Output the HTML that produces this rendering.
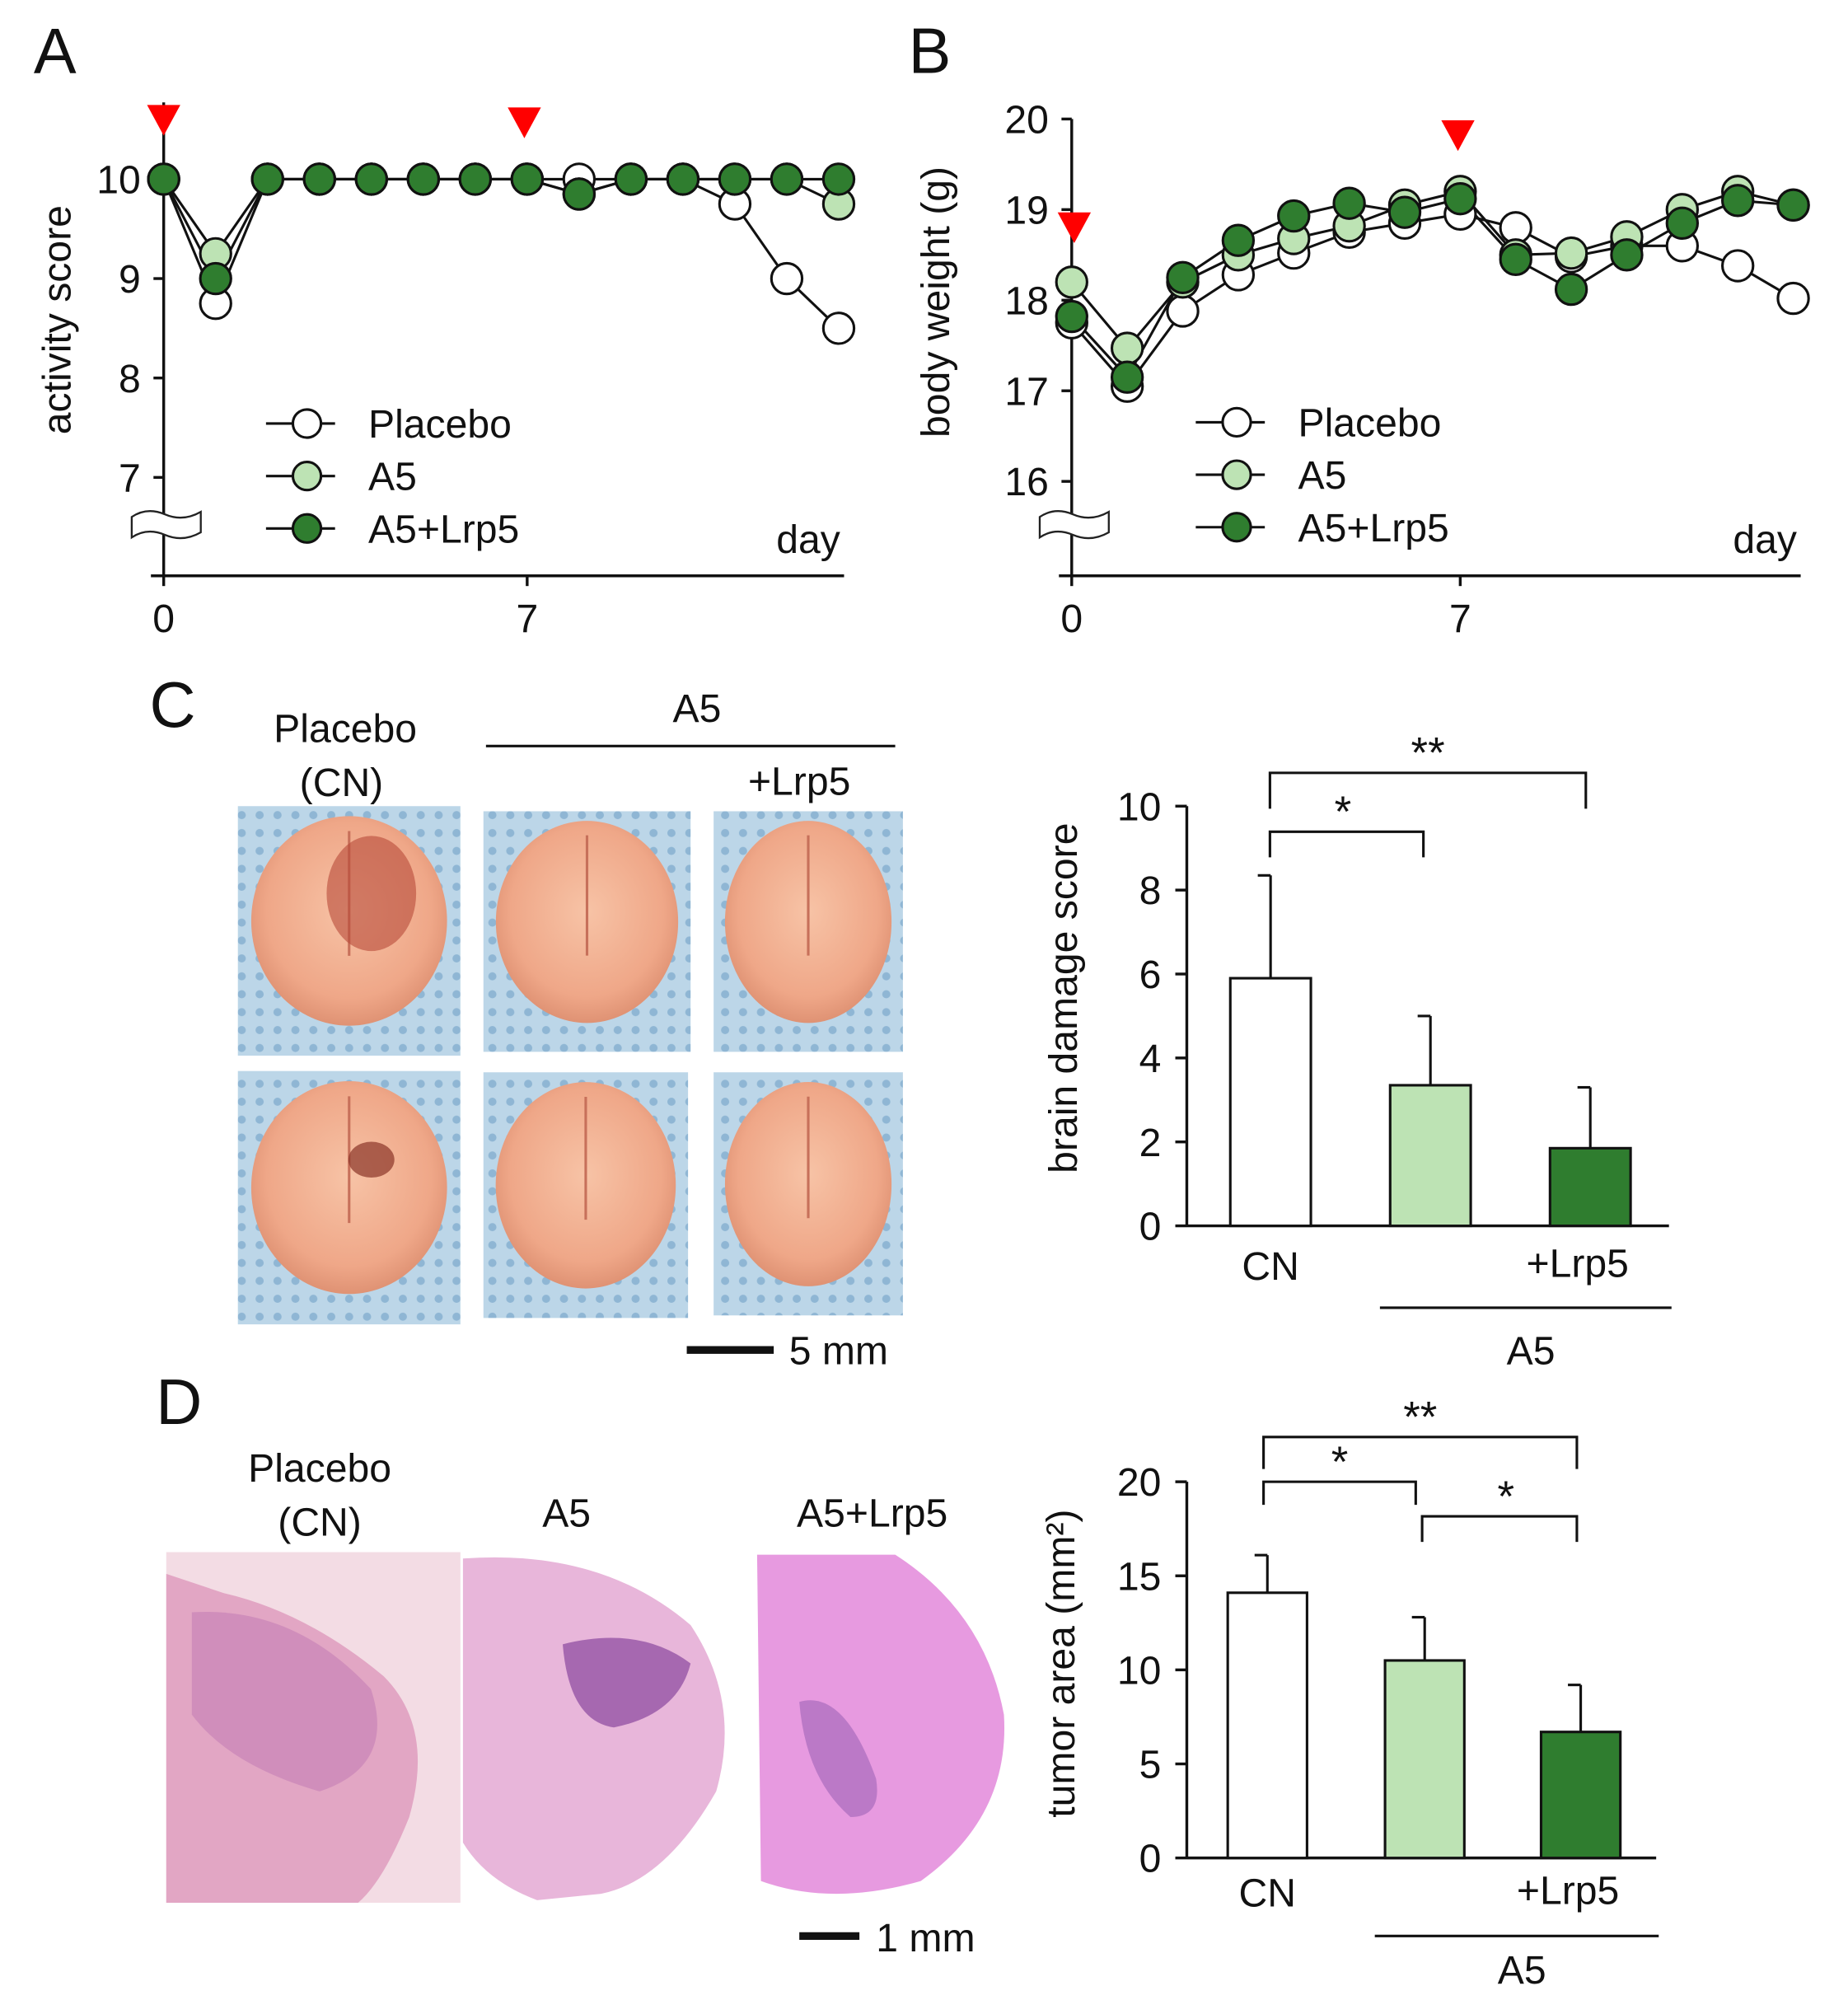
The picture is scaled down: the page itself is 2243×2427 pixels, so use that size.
<!DOCTYPE html>
<html><head><meta charset="utf-8"><style>
html,body{margin:0;padding:0;background:#fff}
svg{display:block}
text{font-family:"Liberation Sans",Arial,sans-serif;fill:#111}
</style></head><body>
<svg id="fig" width="2243" height="2427" viewBox="0 0 1445 1563" preserveAspectRatio="none" xmlns="http://www.w3.org/2000/svg">
<defs>
<radialGradient id="brain" cx="50%" cy="45%" r="60%"><stop offset="0" stop-color="#f7c3a6"/><stop offset="0.7" stop-color="#efa788"/><stop offset="1" stop-color="#d98a6c"/></radialGradient>
<pattern id="dots" width="14" height="14" patternUnits="userSpaceOnUse"><rect width="14" height="14" fill="#bcd6e8"/><circle cx="7" cy="7" r="3.2" fill="#8fb6d4"/></pattern>
</defs>
<g id="A"></g>
<g id="B"></g>
<g id="C"></g>
<g id="D"></g>
</svg>
<script>
// Panel A data
const daysA = [0,1,2,3,4,5,6,7,8,9,10,11,12,13];
const actPlacebo = [10,8.75,10,10,10,10,10,10,10,10,10,9.75,9,8.5];
const actA5 = [10,9.25,10,10,10,10,10,10,9.85,10,10,10,10,9.75];
const actLrp5 = [10,9,10,10,10,10,10,10,9.85,10,10,10,10,10];
const ticksA = [7,8,9,10];
// Panel B data
const wPlacebo = [17.75,17.05,17.88,18.28,18.52,18.75,18.85,18.95,18.8,18.48,18.6,18.6,18.38,18.02];
const wA5 = [18.2,17.47,18.2,18.5,18.68,18.82,19.05,19.2,18.5,18.52,18.7,19.0,19.2,19.05];
const wLrp5 = [17.82,17.15,18.25,18.66,18.93,19.07,18.97,19.12,18.45,18.12,18.5,18.85,19.1,19.05];
const ticksB = [16,17,18,19,20];
const xTickDays = [0,7];
// Panel C bars
const catC = ["CN","A5","+Lrp5"];
const damageMean = [5.9,3.35,1.85];
const damageErr = [2.45,1.65,1.45];
const ticksC = [0,2,4,6,8,10];
// Panel D bars
const tumorMean = [14.1,10.5,6.7];
const tumorErr = [2.0,2.3,2.5];
const ticksD = [0,5,10,15,20];

const NS="http://www.w3.org/2000/svg";
function mk(parent,tag,attrs,name,inter){
  const e=document.createElementNS(NS,tag);
  for(const k in attrs) e.setAttribute(k,attrs[k]);
  
  
  parent.appendChild(e); return e;
}
function txt(parent,x,y,s,size,name,anchor,extra){
  const t=mk(parent,'text',Object.assign({x:x,y:y,'font-size':size,'text-anchor':anchor||'middle'},extra||{}),name,false);
  t.textContent=s; return t;
}
const fills=["#ffffff","#bde3b4","#2f7d2f"];
const LW=2.2;

function linePanel(g,cfg){
  const {x0,xPerDay,yFn,yTop,yBot,ticks,series,title,titleX,titleY,letter,letterX,tri,legX,legY,xEnd}=cfg;
  txt(g,letterX,57,letter,50,'panel-letter');
  const X=d=>x0+d*xPerDay;
  mk(g,'line',{x1:x0,y1:yTop,x2:x0,y2:yBot,stroke:'#111','stroke-width':LW},'y-axis-line');
  mk(g,'line',{x1:x0-10,y1:yBot,x2:xEnd,y2:yBot,stroke:'#111','stroke-width':LW},'x-axis-line');
  const by=yBot-40;
  mk(g,'path',{d:`M${x0-25} ${by-6} q12 -8 26 -2 q14 6 28 -2 v16 q-14 8 -28 2 q-14 -6 -26 2 z`,fill:'#fff',stroke:'#222','stroke-width':1.5},'axis-break');
  ticks.forEach(v=>{
    mk(g,'line',{x1:x0-8,y1:yFn(v),x2:x0,y2:yFn(v),stroke:'#111','stroke-width':LW},'y-tick');
    txt(g,x0-18,yFn(v)+11,String(v),31,'y-tick-label','end');
  });
  xTickDays.forEach(d=>{
    mk(g,'line',{x1:X(d),y1:yBot,x2:X(d),y2:yBot+8,stroke:'#111','stroke-width':LW},'x-tick');
    txt(g,X(d),yBot+44,String(d),31,'x-tick-label');
  });
  txt(g,xEnd-3,yBot-18,'day',31,'x-axis-title','end');
  txt(g,titleX,titleY,title,31,'y-axis-title','middle',{transform:`rotate(-90 ${titleX} ${titleY})`});
  tri.forEach(t=>mk(g,'polygon',{points:`${t[0]-13},${t[1]} ${t[0]+13},${t[1]} ${t[0]},${t[1]+24}`,fill:'#ff0000'},'dose-arrow'));
  series.forEach((s,i)=>{
    const pts=s.map((v,d)=>X(d)+','+yFn(v)).join(' ');
    mk(g,'polyline',{points:pts,fill:'none',stroke:'#111','stroke-width':2},'series-line-'+i);
  });
  series.forEach((s,i)=>{
    s.forEach((v,d)=>mk(g,'circle',{cx:X(d),cy:yFn(v),r:12,fill:fills[i],stroke:'#111','stroke-width':2},'series-point-'+i));
  });
  const names=['Placebo','A5','A5+Lrp5'];
  names.forEach((n,i)=>{
    const y=legY+i*41;
    mk(g,'line',{x1:legX,y1:y,x2:legX+54,y2:y,stroke:'#111','stroke-width':2},'legend-line');
    mk(g,'circle',{cx:legX+32,cy:y,r:11,fill:fills[i],stroke:'#111','stroke-width':2},'legend-marker');
    txt(g,legX+80,y+11,n,31,'legend-entry','start');
  });
}
linePanel(document.getElementById('A'),{x0:128,xPerDay:40.6,yFn:v=>140+(10-v)*77.7,yTop:80,yBot:450,ticks:ticksA,
  series:[actPlacebo,actA5,actLrp5],title:'activity score',titleX:55,titleY:250,letter:'A',letterX:43,
  tri:[[128,82],[410,84]],legX:208,legY:331,xEnd:660});
linePanel(document.getElementById('B'),{x0:838,xPerDay:43.4,yFn:v=>93+(20-v)*70.8,yTop:93,yBot:450,ticks:ticksB,
  series:[wPlacebo,wA5,wLrp5],title:'body weight (g)',titleX:742,titleY:236,letter:'B',letterX:727,
  tri:[[840,166],[1140,94]],legX:935,legY:330,xEnd:1408});

function barPanel(g,cfg){
  const {x0,yFn,yTop,yBot,xEnd,ticks,means,errs,barX,bw,title,titleX,titleY,labY,lineY,a5Y,brackets}=cfg;
  mk(g,'line',{x1:x0,y1:yTop,x2:x0,y2:yBot,stroke:'#111','stroke-width':LW},'y-axis-line');
  mk(g,'line',{x1:x0,y1:yBot,x2:xEnd,y2:yBot,stroke:'#111','stroke-width':LW},'x-axis-line');
  ticks.forEach(v=>{
    mk(g,'line',{x1:x0-9,y1:yFn(v),x2:x0,y2:yFn(v),stroke:'#111','stroke-width':LW},'y-tick');
    txt(g,x0-20,yFn(v)+11,String(v),31,'y-tick-label','end');
  });
  txt(g,titleX,titleY,title,31,'y-axis-title','middle',{transform:`rotate(-90 ${titleX} ${titleY})`});
  means.forEach((m,i)=>{
    const x=barX[i], cx=x+bw/2;
    mk(g,'line',{x1:cx,y1:yFn(m+errs[i]),x2:cx,y2:yFn(m),stroke:'#111','stroke-width':2},'error-bar-'+catC[i]);
    mk(g,'line',{x1:cx-10,y1:yFn(m+errs[i]),x2:cx,y2:yFn(m+errs[i]),stroke:'#111','stroke-width':2},'error-cap-'+catC[i]);
    mk(g,'rect',{x:x,y:yFn(m),width:bw,height:yFn(0)-yFn(m),fill:fills[i],stroke:'#111','stroke-width':2},'bar-'+catC[i]);
  });
  txt(g,barX[0]+bw/2,labY,'CN',31,'x-label-cn');
  txt(g,barX[2]+bw/2-10,labY-2,'+Lrp5',31,'x-label-lrp5');
  mk(g,'line',{x1:barX[1]-8,y1:lineY,x2:xEnd+2,y2:lineY,stroke:'#111','stroke-width':2},'group-line-a5');
  txt(g,(barX[1]-8+xEnd)/2+5,a5Y,'A5',31,'group-label-a5');
  brackets.forEach(b=>{
    mk(g,'path',{d:`M${b[0]} ${b[3]} V${b[2]} H${b[1]} V${b[3]}`,fill:'none',stroke:'#111','stroke-width':2},'significance-bracket');
    txt(g,(b[0]+b[1])/2+b[5],b[2]-4,b[4],34,'significance-stars');
  });
}
const yC=v=>958-v*32.8;
barPanel(document.getElementById('C'),{x0:928,yFn:yC,yTop:630,yBot:958,xEnd:1305,ticks:ticksC,means:damageMean,errs:damageErr,
  barX:[962,1087,1212],bw:63,title:'brain damage score',titleX:842,titleY:780,labY:1000,lineY:1022,a5Y:1066,
  brackets:[[993,1113,650,670,'*',-3],[993,1240,604,632,'**',0]]});
const yD=v=>1452-v*14.7;
barPanel(document.getElementById('D'),{x0:928,yFn:yD,yTop:1158,yBot:1452,xEnd:1295,ticks:ticksD,means:tumorMean,errs:tumorErr,
  barX:[960,1083,1205],bw:62,title:'tumor area (mm²)',titleX:840,titleY:1300,labY:1490,lineY:1513,a5Y:1550,
  brackets:[[988,1233,1123,1148,'**',0],[988,1107,1158,1176,'*',0],[1112,1233,1185,1205,'*',5]]});

// Panel C photos
const gC=document.getElementById('C');
txt(gC,135,568,'C',50,'panel-letter');
txt(gC,270,580,'Placebo',31,'label-placebo');
txt(gC,267,622,'(CN)',31,'label-cn');
txt(gC,545,564,'A5',31,'label-a5');
mk(gC,'line',{x1:380,y1:583,x2:700,y2:583,stroke:'#111','stroke-width':2},'group-line');
txt(gC,625,621,'+Lrp5',31,'label-lrp5');
const photos=[[186,630,174,195],[378,634,162,188],[558,634,148,188],[186,837,174,198],[378,838,160,192],[558,838,148,190]];
photos.forEach((p,i)=>{
  const [x,y,w,h]=p;
  mk(gC,'rect',{x:x,y:y,width:w,height:h,fill:'url(#dots)'},'brain-photo-bg');
  mk(gC,'ellipse',{cx:x+w/2,cy:y+h*0.46,rx:w*0.44,ry:h*0.42,fill:'url(#brain)'},'brain-photo');
  mk(gC,'line',{x1:x+w/2,y1:y+h*0.1,x2:x+w/2,y2:y+h*0.6,stroke:'#c7705a','stroke-width':2},'brain-midline');
  if(i===0) mk(gC,'ellipse',{cx:x+w*0.6,cy:y+h*0.35,rx:35,ry:45,fill:'#b84a38',opacity:0.6},'hemorrhage');
  if(i===3) mk(gC,'ellipse',{cx:x+w*0.6,cy:y+h*0.35,rx:18,ry:14,fill:'#8a3528',opacity:0.7},'hemorrhage');
});
mk(gC,'line',{x1:537,y1:1055,x2:605,y2:1055,stroke:'#111','stroke-width':6},'scale-bar');
txt(gC,617,1066,'5 mm',31,'scale-label','start');

// Panel D histology
const gD=document.getElementById('D');
txt(gD,140,1113,'D',50,'panel-letter');
txt(gD,250,1158,'Placebo',31,'label-placebo');
txt(gD,250,1200,'(CN)',31,'label-cn');
txt(gD,443,1193,'A5',31,'label-a5');
txt(gD,682,1193,'A5+Lrp5',31,'label-a5-lrp5');
mk(gD,'rect',{x:130,y:1213,width:230,height:274,fill:'#f3dce4'},'histology-bg');
mk(gD,'path',{d:'M130 1230 L175 1245 Q240 1260 300 1310 Q340 1350 320 1420 Q300 1470 280 1487 L130 1487 Z',fill:'#e2a6c4'},'histology-placebo');
mk(gD,'path',{d:'M150 1260 Q230 1255 290 1320 Q310 1380 250 1400 Q180 1380 150 1340 Z',fill:'#c985b8',opacity:0.7},'tumor-placebo');
mk(gD,'path',{d:'M362 1218 Q470 1210 540 1270 Q580 1330 560 1400 Q520 1470 470 1480 L420 1485 Q380 1470 362 1440 Z',fill:'#e8b6da'},'histology-a5');
mk(gD,'path',{d:'M440 1285 Q500 1270 540 1300 Q530 1340 480 1350 Q445 1345 440 1285 Z',fill:'#9a5aa8',opacity:0.85},'tumor-a5');
mk(gD,'path',{d:'M592 1215 L700 1215 Q770 1260 785 1340 Q790 1420 720 1470 Q650 1490 595 1470 Z',fill:'#e79ae0'},'histology-a5-lrp5');
mk(gD,'path',{d:'M625 1330 Q660 1320 685 1390 Q690 1420 665 1420 Q630 1390 625 1330 Z',fill:'#b070c0',opacity:0.8},'tumor-a5-lrp5');
mk(gD,'line',{x1:625,y1:1513,x2:672,y2:1513,stroke:'#111','stroke-width':6},'scale-bar');
txt(gD,685,1525,'1 mm',31,'scale-label','start');
</script>
</body></html>
